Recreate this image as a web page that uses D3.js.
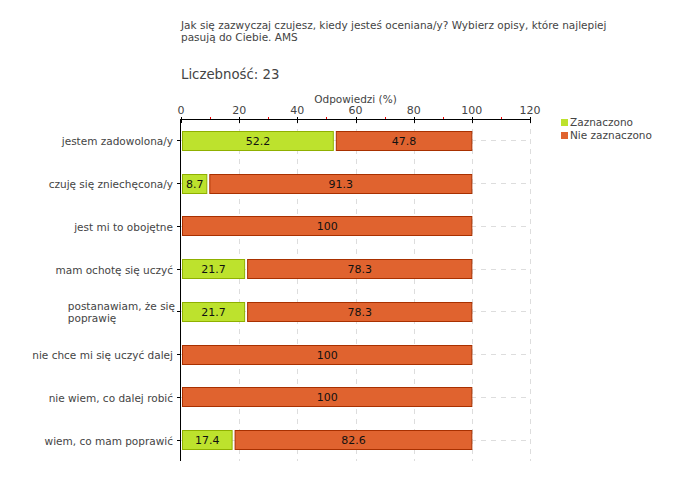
<!DOCTYPE html>
<html><head><meta charset="utf-8">
<script src="https://cdn.jsdelivr.net/npm/d3@7"></script>
<style>body{margin:0;background:#fff}svg{font-family:"DejaVu Sans",Verdana,sans-serif}</style>
</head><body>
<svg id="c" width="680" height="480"></svg>
<script>
const categories = ["jestem zadowolona/y","czuję się zniechęcona/y","jest mi to obojętne","mam ochotę się uczyć","postanawiam, że się|poprawię","nie chce mi się uczyć dalej","nie wiem, co dalej robić","wiem, co mam poprawić"];
const zaznaczono = [52.2, 8.7, 0, 21.7, 21.7, 0, 0, 17.4];
const nieZaznaczono = [47.8, 91.3, 100, 78.3, 78.3, 100, 100, 82.6];
const seriesNames = ["Zaznaczono","Nie zaznaczono"];
const xTicks = [0,20,40,60,80,100,120];
const minorTicks = [10,30,50,70,90,110];
const title = ["Jak się zazwyczaj czujesz, kiedy jesteś oceniana/y? Wybierz opisy, które najlepiej","pasują do Ciebie. AMS"];
const countLabel = "Liczebność: 23";
const axisTitle = "Odpowiedzi (%)";

(function(){
const svg = d3.select("#c");
const L = 181, R = 530, T = 119, B = 461;
const x = d3.scaleLinear().domain([0,120]).range([L,R]);
const y = d3.scaleBand().domain(d3.range(categories.length)).range([T,B]);
const bh = 19;
const fs = 10.5, tc = "#444";
const green = "#bde22d", greenS = "#8fb000", red = "#e0632f", redS = "#a83000";

svg.append("g").selectAll("text").data(title).join("text")
  .attr("x",181).attr("y",(d,i)=>29+i*12).attr("font-size",fs).attr("fill",tc).text(d=>d);
svg.append("text").attr("x",181).attr("y",79).attr("font-size",13.3).attr("fill",tc).text(countLabel);
svg.append("text").attr("x",(x(0)+x(120))/2).attr("y",103).attr("text-anchor","middle").attr("font-size",fs).attr("fill",tc).text(axisTitle);

const g = svg.append("g");
g.selectAll("line.v").data(xTicks.slice(1)).join("line")
  .attr("x1",d=>Math.round(x(d))+0.5).attr("x2",d=>Math.round(x(d))+0.5).attr("y1",T).attr("y2",B)
  .attr("stroke","#ddd").attr("stroke-dasharray","5,5");
g.selectAll("line.h").data(categories).join("line")
  .attr("x1",L).attr("x2",R).attr("y1",(d,i)=>Math.round(y(i)+y.bandwidth()/2)+0.5).attr("y2",(d,i)=>Math.round(y(i)+y.bandwidth()/2)+0.5)
  .attr("stroke","#ddd").attr("stroke-dasharray","5,5");

const rows = svg.append("g").selectAll("g").data(categories).join("g")
  .attr("transform",(d,i)=>`translate(0,${Math.round(y(i)+y.bandwidth()/2-bh/2)})`);
rows.each(function(d,i){
  const r = d3.select(this);
  const a = zaznaczono[i], b = nieZaznaczono[i];
  if(a>0){
    r.append("rect").attr("x",x(0)+1.5).attr("y",0.5).attr("width",x(a)-x(0)-1).attr("height",bh)
      .attr("fill",green).attr("stroke",greenS);
    r.append("text").attr("x",(x(0)+x(a))/2+1).attr("y",bh/2+4.5).attr("text-anchor","middle").attr("font-size",fs+0.5).attr("fill","#111").text(a);
  }
  if(b>0){
    const s = a>0 ? x(a)+3.5 : x(0)+1.5;
    r.append("rect").attr("x",s).attr("y",0.5).attr("width",x(a+b)-s).attr("height",bh)
      .attr("fill",red).attr("stroke",redS);
    r.append("text").attr("x",(s+x(a+b))/2).attr("y",bh/2+4.5).attr("text-anchor","middle").attr("font-size",fs+0.5).attr("fill","#111").text(b);
  }
});

const ax = svg.append("g");
ax.append("line").attr("x1",L).attr("x2",R).attr("y1",T+0.5).attr("y2",T+0.5).attr("stroke","#000");
ax.selectAll("line.mj").data(xTicks).join("line")
  .attr("x1",d=>Math.round(x(d))+0.5).attr("x2",d=>Math.round(x(d))+0.5).attr("y1",T-2).attr("y2",T+4).attr("stroke","#000");
ax.selectAll("line.mn").data(minorTicks).join("line")
  .attr("x1",d=>Math.round(x(d))+0.5).attr("x2",d=>Math.round(x(d))+0.5).attr("y1",T-2).attr("y2",T).attr("stroke","#e00");
ax.selectAll("text").data(xTicks).join("text")
  .attr("x",d=>x(d)).attr("y",T-5).attr("text-anchor","middle").attr("font-size",fs+0.5).attr("fill",tc).text(d=>d);

const ya = svg.append("g");
ya.append("line").attr("x1",L-0.5).attr("x2",L-0.5).attr("y1",T).attr("y2",B).attr("stroke","#000");
categories.forEach((c,i)=>{
  const cy = Math.round(y(i)+y.bandwidth()/2)+0.5;
  ya.append("line").attr("x1",L-4).attr("x2",L).attr("y1",cy).attr("y2",cy).attr("stroke","#000");
  const lines = c.split("|");
  if(lines.length===1){
    ya.append("text").attr("x",173).attr("y",cy+4).attr("text-anchor","end").attr("font-size",fs).attr("fill",tc).text(c);
  } else {
    const t = ya.append("text").attr("font-size",fs).attr("fill",tc);
    const tmp = t.append("tspan").text(lines[0]);
    const w = tmp.node().getComputedTextLength();
    tmp.remove();
    lines.forEach((l,k)=>{
      t.append("tspan").attr("x",175-w).attr("y",cy-1.5+k*12).text(l);
    });
  }
});

const lg = svg.append("g");
[green,red].forEach((col,i)=>{
  lg.append("rect").attr("x",561).attr("y",119+i*13).attr("width",7).attr("height",7).attr("fill",col);
  lg.append("text").attr("x",570).attr("y",126+i*13).attr("font-size",fs).attr("fill",tc).text(seriesNames[i]);
});
})();
</script>
</body></html>
